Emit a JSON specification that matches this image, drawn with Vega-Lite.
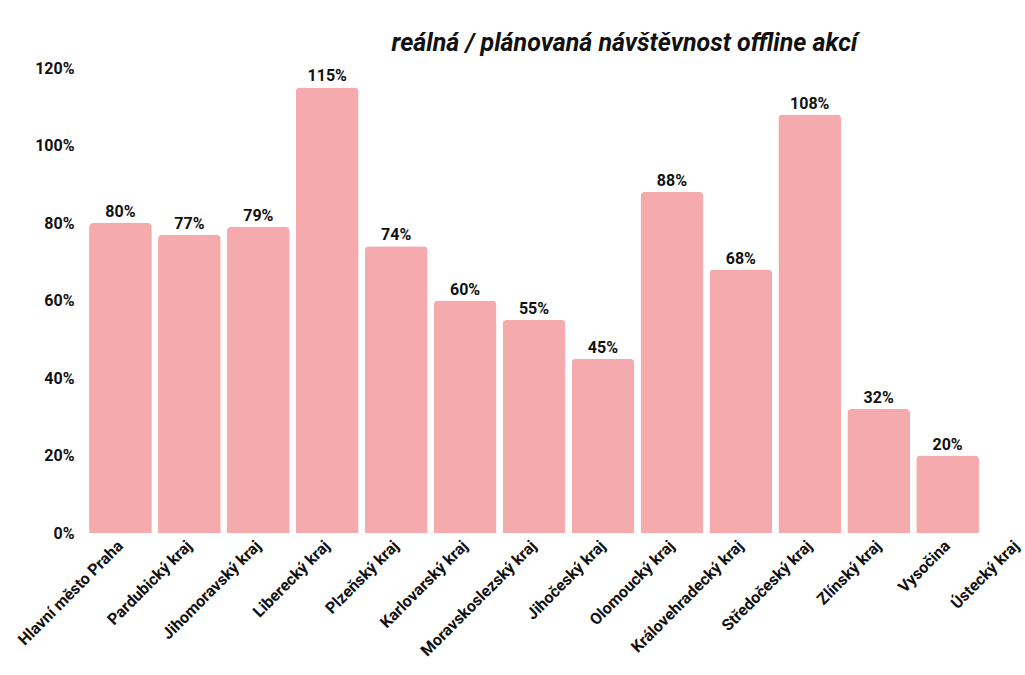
{
  "$schema": "https://vega.github.io/schema/vega-lite/v6.json",
  "autosize": {"type": "none"},
  "padding": {"left": 86, "top": 68, "right": 0, "bottom": 142},
  "width": 965,
  "height": 465,
  "background": "white",
  "config": {"view": {"stroke": null}},
  "title": {
    "text": "reálná / plánovaná návštěvnost offline akcí",
    "font": "Roboto",
    "fontSize": 25,
    "fontWeight": "bold",
    "fontStyle": "italic",
    "color": "#111111",
    "anchor": "middle",
    "dx": 56,
    "offset": 4
  },
  "data": {
    "values": [
      {"kraj": "Hlavní město Praha", "pomer": 0.80},
      {"kraj": "Pardubický kraj", "pomer": 0.77},
      {"kraj": "Jihomoravský kraj", "pomer": 0.79},
      {"kraj": "Liberecký kraj", "pomer": 1.15},
      {"kraj": "Plzeňský kraj", "pomer": 0.74},
      {"kraj": "Karlovarský kraj", "pomer": 0.60},
      {"kraj": "Moravskoslezský kraj", "pomer": 0.55},
      {"kraj": "Jihočeský kraj", "pomer": 0.45},
      {"kraj": "Olomoucký kraj", "pomer": 0.88},
      {"kraj": "Královehradecký kraj", "pomer": 0.68},
      {"kraj": "Středočeský kraj", "pomer": 1.08},
      {"kraj": "Zlínský kraj", "pomer": 0.32},
      {"kraj": "Vysočina", "pomer": 0.20},
      {"kraj": "Ústecký kraj", "pomer": null}
    ]
  },
  "encoding": {
    "x": {
      "field": "kraj",
      "type": "nominal",
      "sort": null,
      "scale": {
        "domain": ["Hlavní město Praha", "Pardubický kraj", "Jihomoravský kraj", "Liberecký kraj", "Plzeňský kraj", "Karlovarský kraj", "Moravskoslezský kraj", "Jihočeský kraj", "Olomoucký kraj", "Královehradecký kraj", "Středočeský kraj", "Zlínský kraj", "Vysočina", "Ústecký kraj"],
        "paddingInner": 0.09,
        "paddingOuter": 0.045
      },
      "axis": {
        "title": null,
        "labelAngle": -45,
        "labelAlign": "right",
        "labelBaseline": "middle",
        "labelFont": "Roboto",
        "labelFontSize": 16,
        "labelFontWeight": "bold",
        "labelColor": "#111111",
        "labelPadding": 10,
        "labelOverlap": false,
        "ticks": false,
        "domain": false,
        "grid": false
      }
    },
    "y": {
      "field": "pomer",
      "type": "quantitative",
      "scale": {"domain": [0, 1.2], "nice": false},
      "axis": {
        "title": null,
        "format": ".0%",
        "values": [0, 0.2, 0.4, 0.6, 0.8, 1.0, 1.2],
        "labelFont": "Roboto",
        "labelFontSize": 16,
        "labelFontWeight": "bold",
        "labelColor": "#111111",
        "labelPadding": 12,
        "ticks": false,
        "domain": false,
        "grid": false
      }
    }
  },
  "layer": [
    {
      "mark": {"type": "bar", "color": "#F5AAAE", "cornerRadiusTopLeft": 4, "cornerRadiusTopRight": 4}
    },
    {
      "transform": [{"filter": "datum.pomer != null"}],
      "mark": {"type": "text", "baseline": "alphabetic", "dy": -6, "font": "Roboto", "fontSize": 16, "fontWeight": "bold", "color": "#111111"},
      "encoding": {
        "text": {"field": "pomer", "type": "quantitative", "format": ".0%"}
      }
    }
  ]
}
